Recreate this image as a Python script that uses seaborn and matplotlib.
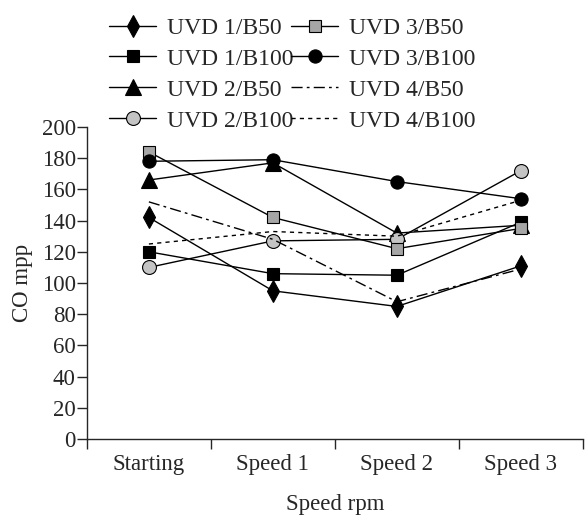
import numpy as np
import pandas as pd
import matplotlib
matplotlib.use('Agg')
import matplotlib.pyplot as plt
import seaborn as sea

categories = ['Starting', 'Speed 1', 'Speed 2', 'Speed 3']
uvd1_b50 = [142, 95, 85, 111]
uvd1_b100 = [120, 106, 105, 139]
uvd2_b50 = [166, 177, 132, 137]
uvd2_b100 = [110, 127, 128, 172]
uvd3_b50 = [184, 142, 122, 135]
uvd3_b100 = [178, 179, 165, 154]
uvd4_b50 = [152, 128, 88, 109]
uvd4_b100 = [125, 133, 130, 153]

series = [
    ('UVD 1/B50', uvd1_b50, dict(marker='d', mfc='black', ms=11, ls='-')),
    ('UVD 1/B100', uvd1_b100, dict(marker='s', mfc='black', ms=9, ls='-')),
    ('UVD 2/B50', uvd2_b50, dict(marker='^', mfc='black', ms=11, ls='-')),
    ('UVD 2/B100', uvd2_b100, dict(marker='o', mfc='#c4c4c4', ms=10, ls='-')),
    ('UVD 3/B50', uvd3_b50, dict(marker='s', mfc='#a6a6a6', ms=9, ls='-')),
    ('UVD 3/B100', uvd3_b100, dict(marker='o', mfc='black', ms=9.5, ls='-')),
    ('UVD 4/B50', uvd4_b50, dict(marker='', mfc='black', ms=0, ls=(0, (8, 3, 2, 3)))),
    ('UVD 4/B100', uvd4_b100, dict(marker='', mfc='black', ms=0, ls=(0, (3, 3)))),
]

sea.set_style('ticks')
plt.rcParams['font.family'] = ['Liberation Serif', 'DejaVu Serif']

fig = plt.figure(figsize=(5.87, 5.16), dpi=100)
ax = fig.add_axes([0.148, 0.149, 0.845, 0.605])

handles = []
for name, vals, st in series:
    df = pd.DataFrame({'speed': categories, 'co': vals})
    sea.lineplot(data=df, x='speed', y='co', ax=ax, color='black', lw=1.0,
                 linestyle=st['ls'], marker=st['marker'] or None,
                 markerfacecolor=st['mfc'], markeredgecolor='black',
                 markersize=st['ms'], markeredgewidth=0.8, sort=False)
    h, = ax.plot([], [], color='black', lw=1.0, linestyle=st['ls'],
                 marker=st['marker'] or None, markerfacecolor=st['mfc'],
                 markeredgecolor='black', markersize=st['ms'],
                 markeredgewidth=0.8)
    handles.append((h, name))

ax.set_xlim(-0.5, 3.5)
ax.set_ylim(0, 200)
ax.set_yticks(np.arange(0, 201, 20))
ax.set_xticks([-0.5, 0.5, 1.5, 2.5, 3.5])
ax.set_xticklabels([])
ax.set_xticks(range(4), minor=True)
ax.set_xticklabels(categories, minor=True)
ax.tick_params(axis='x', which='minor', length=0, pad=11, labelsize=16.5)
ax.tick_params(axis='x', which='major', length=7, direction='out', width=1)
ax.tick_params(axis='y', length=7, width=1, labelsize=16.5, pad=1)
sea.despine(ax=ax)
for sp in ['left', 'bottom']:
    ax.spines[sp].set_linewidth(1)
ax.set_xlabel('Speed rpm', fontsize=16.5, labelpad=13.5)
ax.set_ylabel('CO mpp', fontsize=16.5, labelpad=6)

fig.legend([h for h, _ in handles], [n for _, n in handles], ncol=2,
           loc='upper left', bbox_to_anchor=(0.162, 0.994), frameon=False,
           fontsize=17, handlelength=2.0, labelspacing=0.4,
           columnspacing=-0.1, handletextpad=0.45, borderaxespad=0.2)

fig.savefig('out.png', dpi=100)
